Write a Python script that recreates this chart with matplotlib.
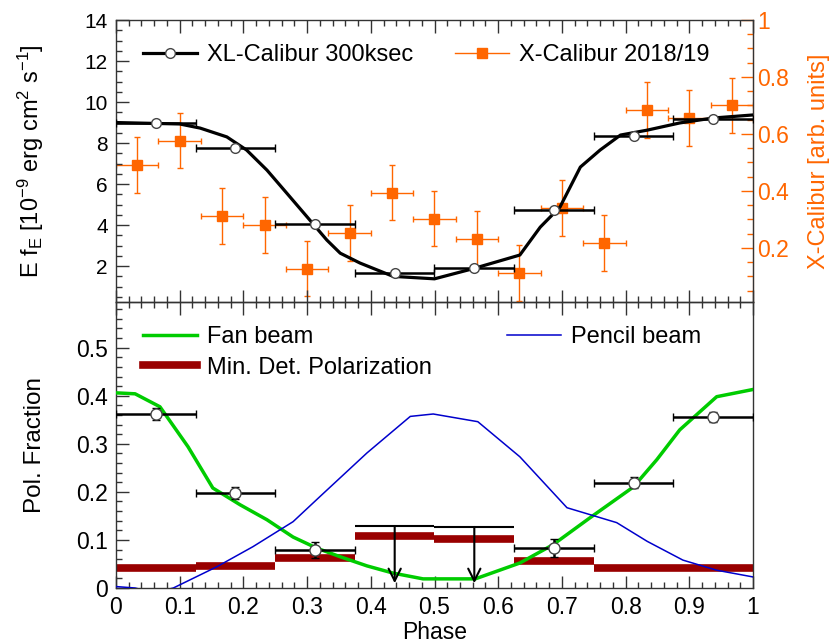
import matplotlib
matplotlib.use("Agg")
import matplotlib.pyplot as plt
from matplotlib.lines import Line2D
from matplotlib.ticker import MultipleLocator, FixedLocator, FuncFormatter

plt.rcParams['font.family'] = ['Liberation Sans', 'DejaVu Sans']
plt.rcParams['mathtext.fontset'] = 'custom'
plt.rcParams['mathtext.rm'] = 'Liberation Sans'
plt.rcParams['mathtext.it'] = 'Liberation Sans'

# ---------------- data ----------------
model_phase = [0, 0.1, 0.132, 0.174, 0.205, 0.237, 0.268, 0.3, 0.331, 0.352, 0.383,
               0.435, 0.5, 0.56, 0.634, 0.666, 0.697, 0.729, 0.76, 0.792, 0.834,
               0.885, 0.937, 1.0]
model_flux = [9.0, 8.93, 8.73, 8.3, 7.66, 6.68, 5.56, 4.4, 3.27, 2.63, 2.15,
              1.5, 1.38, 1.87, 2.54, 3.9, 4.88, 6.83, 7.66, 8.39, 8.63,
              8.98, 9.22, 9.37]

xl_phase = [0.0625, 0.1875, 0.3125, 0.4375, 0.5625, 0.6875, 0.8125, 0.9375]
xl_flux = [8.98, 7.76, 4.05, 1.66, 1.9, 4.73, 8.34, 9.17]
xl_phase_err = [0.0625] * 8

xc_phase = [0.0333, 0.1, 0.1667, 0.2333, 0.3, 0.3667, 0.4333, 0.5, 0.5667,
            0.6333, 0.7, 0.7667, 0.8333, 0.9, 0.9667]
xc_rate = [0.491, 0.576, 0.312, 0.28, 0.127, 0.252, 0.394, 0.302, 0.231,
           0.112, 0.34, 0.217, 0.684, 0.656, 0.70]
xc_rate_err = [0.097] * 15
xc_phase_err = [0.0333] * 15

pf_phase = [0.0625, 0.1875, 0.3125, 0.6875, 0.8125, 0.9375]
pf_value = [0.362, 0.198, 0.079, 0.083, 0.219, 0.356]
pf_err = [0.013, 0.013, 0.017, 0.019, 0.011, 0.011]
pf_phase_err = [0.0625] * 6

ul_phase = [0.4375, 0.5625]
ul_value = [0.129, 0.127]
ul_lo = [0.375, 0.5]
ul_hi = [0.5, 0.625]

mdp_lo = [0.0, 0.125, 0.25, 0.375, 0.5, 0.625, 0.75, 0.875]
mdp_hi = [0.125, 0.25, 0.375, 0.5, 0.625, 0.75, 0.875, 1.0]
mdp_value = [0.042, 0.045, 0.0625, 0.108, 0.102, 0.056, 0.042, 0.041]

fan_phase = [0, 0.03, 0.069, 0.113, 0.152, 0.195, 0.237, 0.278, 0.315, 0.352,
             0.394, 0.435, 0.482, 0.564, 0.634, 0.686, 0.744, 0.812, 0.849,
             0.885, 0.943, 1.0]
fan_value = [0.406, 0.404, 0.377, 0.294, 0.208, 0.173, 0.142, 0.106, 0.083, 0.065,
             0.046, 0.031, 0.019, 0.019, 0.052, 0.09, 0.146, 0.21, 0.267,
             0.329, 0.398, 0.413]

pencil_phase = [0, 0.03, 0.06, 0.09, 0.158, 0.215, 0.278, 0.32, 0.394, 0.462,
                0.498, 0.568, 0.634, 0.708, 0.786, 0.834, 0.89, 0.943, 1.0]
pencil_value = [0.003, 0.0, -0.01, 0.0, 0.044, 0.086, 0.138, 0.19, 0.281, 0.357,
                0.362, 0.346, 0.273, 0.167, 0.136, 0.097, 0.058, 0.037, 0.023]

# ---------------- figure ----------------
W, H = 833, 644
fig = plt.figure(figsize=(W / 100, H / 100), dpi=100)

def rect(l, t, r, b):
    return [l / W, 1 - b / H, (r - l) / W, (b - t) / H]

ORANGE = '#ff6600'
SP = '#333333'
FS_TICK_TOP = 15
FS_TICK = 16.5
FS_LEG = 17
FS_LAB = 17

ax1 = fig.add_axes(rect(116, 20, 753, 302))
ax2 = fig.add_axes(rect(116, 302, 753, 588))

def fmt(v, p):
    if abs(v) < 1e-9:
        return '0'
    if abs(v - 1) < 1e-9:
        return '1'
    return f'{v:.1f}'

def style_x(ax):
    ax.set_xlim(0, 1)
    ax.xaxis.set_major_locator(MultipleLocator(0.1))
    ax.xaxis.set_minor_locator(MultipleLocator(0.02))
    ax.xaxis.set_major_formatter(FuncFormatter(fmt))
    ax.tick_params(axis='x', which='both', direction='in', top=True, bottom=True,
                   colors=SP, labelcolor='black', labelsize=FS_TICK, pad=6)
    ax.tick_params(axis='x', which='major', length=9, width=1)
    ax.tick_params(axis='x', which='minor', length=4.5, width=1)
    for s in ax.spines.values():
        s.set_color(SP)
        s.set_linewidth(1.0)

# ---- top panel ----
style_x(ax1)
ax1.tick_params(axis='x', labelbottom=False)
ax1.set_ylim(0.25, 14)
ax1.yaxis.set_major_locator(FixedLocator([2, 4, 6, 8, 10, 12, 14]))
ax1.yaxis.set_minor_locator(MultipleLocator(0.5))
ax1.tick_params(axis='y', which='both', direction='in', left=True, right=False,
                colors=SP, labelcolor='black', labelsize=FS_TICK_TOP, pad=6)
ax1.tick_params(axis='y', which='major', length=9, width=1)
ax1.tick_params(axis='y', which='minor', length=4.5, width=1)
ax1.set_ylabel(r'E f$_{\rm E}$ [10$^{-9}$ erg cm$^{2}$ s$^{-1}$]', fontsize=FS_LAB)
ax1.yaxis.set_label_coords(-0.11, 0.5)

ax1r = ax1.twinx()
ax1r.set_position(rect(116, 20, 753, 302))
ax1r.set_ylim(0.01, 1.0)
ax1r.yaxis.set_major_locator(FixedLocator([0.2, 0.4, 0.6, 0.8, 1.0]))
ax1r.yaxis.set_minor_locator(MultipleLocator(0.05))
ax1r.yaxis.set_major_formatter(FuncFormatter(fmt))
ax1r.tick_params(axis='y', which='both', direction='in', colors=ORANGE,
                 labelsize=FS_TICK, pad=3)
ax1r.tick_params(axis='y', which='major', length=9, width=1)
ax1r.tick_params(axis='y', which='minor', length=4.5, width=1)
ax1r.spines['right'].set_color(ORANGE)
for k in ['left', 'top', 'bottom']:
    ax1r.spines[k].set_visible(False)
ax1r.set_ylabel('X-Calibur [arb. units]', color=ORANGE, fontsize=FS_LAB)
ax1r.yaxis.set_label_coords(1.086, 0.5)

ax1.plot(model_phase, model_flux, color='black', lw=2.3, zorder=3)
ax1.errorbar(xl_phase, xl_flux, xerr=xl_phase_err, fmt='o', color='black',
             mfc='white', mec='#444444', ms=7, mew=1, elinewidth=1.8,
             capsize=3, capthick=1.8, zorder=4)
ax1r.errorbar(xc_phase, xc_rate, xerr=xc_phase_err, yerr=xc_rate_err, fmt='s',
              color=ORANGE, ms=7.5, elinewidth=1, capsize=2.5, capthick=1, zorder=5)

h1 = Line2D([], [], color='black', lw=2.3, marker='o', mfc='white', mec='#444444', ms=7)
h2 = Line2D([], [], color=ORANGE, lw=1, marker='s', ms=7.5)
ax1.legend([h1, h2], ['XL-Calibur 300ksec', 'X-Calibur 2018/19'], ncol=2,
           frameon=False, fontsize=FS_LEG, handlelength=2.29,
           handletextpad=0.42, columnspacing=1.75, loc='center left',
           bbox_to_anchor=(0.0277, 0.876), borderaxespad=0, borderpad=0.4)
ax1.set_zorder(ax1r.get_zorder() + 1)
ax1.patch.set_visible(False)

# ---- bottom panel ----
style_x(ax2)
ax2.set_ylim(0, 0.595)
ax2.yaxis.set_major_locator(FixedLocator([0, 0.1, 0.2, 0.3, 0.4, 0.5]))
ax2.yaxis.set_minor_locator(MultipleLocator(0.02))
ax2.yaxis.set_major_formatter(FuncFormatter(fmt))
ax2.tick_params(axis='y', which='both', direction='in', left=True, right=False,
                colors=SP, labelcolor='black', labelsize=FS_TICK, pad=6)
ax2.tick_params(axis='y', which='major', length=9, width=1)
ax2.tick_params(axis='y', which='minor', length=4.5, width=1)
ax2.set_ylabel('Pol. Fraction', fontsize=FS_LAB + 0.5)
ax2.yaxis.set_label_coords(-0.11, 0.5)
ax2.set_xlabel('Phase', fontsize=FS_LAB - 0.5, labelpad=1)

ax2.hlines(mdp_value, mdp_lo, mdp_hi, color='#990000', lw=5.5, zorder=2)
ax2.plot(fan_phase, fan_value, color='#00cc00', lw=2.5, zorder=3)
ax2.plot(pencil_phase, pencil_value, color='#0000cc', lw=1.1, zorder=3)
ax2.hlines(ul_value, ul_lo, ul_hi, color='black', lw=1.5, zorder=4)
for x, u in zip(ul_phase, ul_value):
    ax2.annotate('', xy=(x, 0.01), xytext=(x, u),
                 arrowprops=dict(arrowstyle='->', color='black', lw=1.5,
                                 mutation_scale=22, shrinkA=0, shrinkB=0),
                 zorder=4)
ax2.errorbar(pf_phase, pf_value, xerr=pf_phase_err, yerr=pf_err, fmt='o',
             color='black', mfc='white', mec='#444444', ms=8, mew=1,
             elinewidth=1.8, capsize=3, capthick=1.8, zorder=5)

hf = Line2D([], [], color='#00cc00', lw=2.5)
hm = Line2D([], [], color='#990000', lw=5.5)
hp = Line2D([], [], color='#0000cc', lw=1.1)
legA = ax2.legend([hf, hm], ['Fan beam', 'Min. Det. Polarization'], frameon=False,
                  fontsize=FS_LEG, handlelength=2.29, handletextpad=0.42,
                  labelspacing=0.35, loc='center left', bbox_to_anchor=(0.0277, 0.823),
                  borderaxespad=0, borderpad=0.4)
ax2.add_artist(legA)
ax2.legend([hp], ['Pencil beam'], frameon=False, fontsize=FS_LEG, handlelength=2.29,
           handletextpad=0.42, loc='center left', bbox_to_anchor=(0.599, 0.8776),
           borderaxespad=0, borderpad=0.4)

fig.savefig('out.png', dpi=100)
